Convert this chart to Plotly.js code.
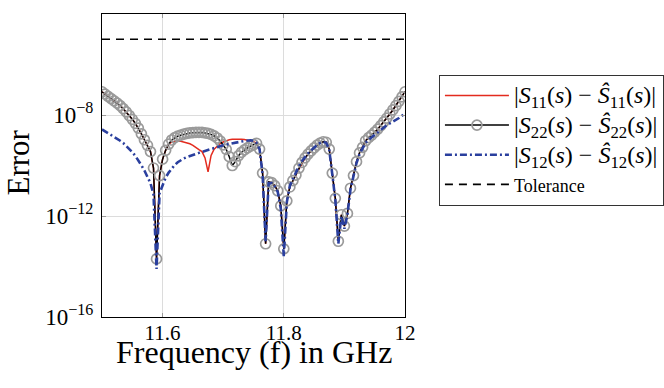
<!DOCTYPE html>
<html>
<head>
<meta charset="utf-8">
<script src="https://cdn.plot.ly/plotly-3.0.1.min.js"></script>
<style>html,body{margin:0;padding:0;background:#fff;}#chart{width:664px;height:388px;}</style>
</head>
<body>
<div id="chart"></div>
<script>
// Frequency grid (GHz)
const freq = [11.500,11.505,11.510,11.515,11.520,11.525,11.530,11.535,11.540,11.545,
11.550,11.555,11.560,11.565,11.570,11.575,11.580,11.585,11.590,11.595,
11.600,11.605,11.610,11.615,11.620,11.625,11.630,11.635,11.640,11.645,
11.650,11.655,11.660,11.665,11.670,11.675,11.680,11.685,11.690,11.695,
11.700,11.705,11.710,11.715,11.720,11.725,11.730,11.735,11.740,11.745,
11.750,11.755,11.760,11.765,11.770,11.775,11.780,11.785,11.790,11.795,
11.800,11.805,11.810,11.815,11.820,11.825,11.830,11.835,11.840,11.845,
11.850,11.855,11.860,11.865,11.870,11.875,11.880,11.885,11.890,11.895,
11.900,11.905,11.910,11.915,11.920,11.925,11.930,11.935,11.940,11.945,
11.950,11.955,11.960,11.965,11.970,11.975,11.980,11.985,11.990,11.995,12.000];

// log10 of the error values
const s22Exp = [-7.08,-7.17,-7.26,-7.35,-7.44,-7.53,-7.63,-7.75,-7.88,-8.02,
-8.17,-8.33,-8.52,-8.75,-8.98,-9.20,-9.45,-10.10,-13.70,-10.40,
-9.75,-9.40,-9.15,-8.99,-8.90,-8.84,-8.80,-8.76,-8.73,-8.71,
-8.70,-8.69,-8.69,-8.69,-8.71,-8.73,-8.77,-8.83,-8.91,-9.03,
-9.18,-9.36,-9.65,-10.00,-9.85,-9.62,-9.48,-9.38,-9.30,-9.23,
-9.17,-9.12,-9.35,-10.30,-13.10,-10.65,-10.68,-10.80,-11.00,-11.60,
-13.30,-11.40,-10.85,-10.60,-10.38,-10.10,-9.88,-9.70,-9.55,-9.42,
-9.30,-9.19,-9.11,-9.06,-9.08,-9.35,-10.30,-11.30,-13.00,-11.95,
-12.40,-11.90,-10.90,-10.40,-9.85,-9.50,-9.28,-9.02,-8.90,-8.80,
-8.68,-8.56,-8.42,-8.27,-8.12,-7.96,-7.80,-7.63,-7.46,-7.28,-7.08];

const s11Exp = [-7.08,-7.17,-7.26,-7.35,-7.44,-7.53,-7.63,-7.75,-7.88,-8.02,
-8.17,-8.33,-8.52,-8.75,-8.98,-9.20,-9.45,-10.10,-13.70,-10.40,
-9.75,-9.40,-9.17,-9.07,-9.04,-9.03,-9.04,-9.07,-9.10,-9.14,
-9.20,-9.27,-9.37,-9.45,-9.70,-10.25,-9.60,-9.35,-9.22,-9.13,
-9.07,-9.02,-8.98,-8.96,-8.95,-8.95,-8.96,-8.97,-8.99,-9.02,
-9.06,-9.11,-9.35,-10.30,-13.10,-10.65,-10.68,-10.80,-11.00,-11.60,
-13.30,-11.40,-10.85,-10.60,-10.38,-10.10,-9.88,-9.70,-9.55,-9.42,
-9.30,-9.19,-9.11,-9.06,-9.08,-9.35,-10.30,-11.30,-13.00,-11.95,
-12.40,-11.90,-10.90,-10.40,-9.85,-9.50,-9.28,-9.02,-8.90,-8.80,
-8.68,-8.56,-8.42,-8.27,-8.12,-7.96,-7.80,-7.63,-7.46,-7.28,-7.08];

const s12Exp = [-8.57,-8.64,-8.71,-8.78,-8.86,-8.94,-9.02,-9.11,-9.22,-9.34,
-9.47,-9.62,-9.79,-9.99,-10.20,-10.42,-10.70,-11.15,-14.10,-11.10,
-10.75,-10.48,-10.28,-10.12,-9.98,-9.87,-9.79,-9.72,-9.67,-9.62,
-9.58,-9.54,-9.50,-9.46,-9.42,-9.38,-9.34,-9.30,-9.26,-9.23,
-9.20,-9.17,-9.14,-9.11,-9.09,-9.07,-9.05,-9.03,-9.01,-9.00,
-9.02,-9.10,-9.35,-10.35,-13.00,-10.70,-10.70,-10.82,-11.05,-11.70,
-13.60,-11.45,-10.80,-10.52,-10.28,-10.02,-9.82,-9.66,-9.52,-9.40,
-9.29,-9.19,-9.11,-9.07,-9.10,-9.38,-10.35,-11.35,-13.10,-12.00,
-12.50,-11.95,-10.95,-10.45,-9.90,-9.55,-9.33,-9.10,-8.98,-8.88,
-8.78,-8.68,-8.58,-8.48,-8.40,-8.33,-8.27,-8.20,-8.12,-8.03,-7.93];

const tolFreq = [11.5, 12.0];
const tolValue = [1e-5, 1e-5];

const yTickVals = [1e-16, 1e-12, 1e-8, 1e-4];
const yTickText = ['10<sup>\u221216</sup>', '10<sup>\u221212</sup>', '10<sup>\u22128</sup>', '10<sup>\u22124</sup>'];
const xTickVals = [11.6, 11.8, 12];
const xTickText = ['11.6', '11.8', '12'];

const seriesNames = [
  '<span style="font-size:24px">|<i>S</i><sub>11</sub>(<i>s</i>) \u2212 <i>\u015C</i><sub>11</sub>(<i>s</i>)|</span>',
  '<span style="font-size:24px">|<i>S</i><sub>22</sub>(<i>s</i>) \u2212 <i>\u015C</i><sub>22</sub>(<i>s</i>)|</span>',
  '<span style="font-size:24px">|<i>S</i><sub>12</sub>(<i>s</i>) \u2212 <i>\u015C</i><sub>12</sub>(<i>s</i>)|</span>',
  '<span style="font-size:18px">Tolerance</span>'
];

const toVal = a => a.map(v => Math.pow(10, v));

const serif = 'Liberation Serif, Times New Roman, serif';

const traces = [
  {x: freq, y: toVal(s11Exp), type: 'scatter', mode: 'lines', name: seriesNames[0],
   line: {color: '#e32b1e', width: 1.5}},
  {x: freq, y: toVal(s22Exp), type: 'scatter', mode: 'lines+markers', name: seriesNames[1],
   line: {color: '#000000', width: 1.5},
   marker: {symbol: 'circle-open', size: 10, color: '#9a9a9a', line: {width: 1.7, color: '#9a9a9a'}}},
  {x: freq, y: toVal(s12Exp), type: 'scatter', mode: 'lines', name: seriesNames[2],
   line: {color: '#2a3f9e', width: 2.6, dash: '7px,3px,2px,3px'}},
  {x: tolFreq, y: tolValue, type: 'scatter', mode: 'lines', name: seriesNames[3],
   line: {color: '#000000', width: 1.6, dash: '8px,6px'}}
];

const layout = {
  width: 664, height: 388,
  margin: {l: 102, r: 259, t: 14, b: 71, autoexpand: false},
  paper_bgcolor: '#ffffff', plot_bgcolor: '#ffffff',
  font: {family: serif, color: '#000000', size: 18},
  showlegend: true,
  xaxis: {
    range: [11.5, 12], tickvals: xTickVals, ticktext: xTickText,
    showgrid: true, gridcolor: '#dcdcdc', gridwidth: 1,
    showline: true, linecolor: '#000000', linewidth: 1, mirror: 'ticks',
    ticks: 'inside', ticklen: 4, tickcolor: '#999999', zeroline: false,
    tickfont: {size: 21, family: serif}, ticklabelstandoff: -3
  },
  yaxis: {
    type: 'log', range: [-16, -4], tickvals: yTickVals, ticktext: yTickText,
    showgrid: true, gridcolor: '#dcdcdc', gridwidth: 1,
    showline: true, linecolor: '#000000', linewidth: 1, mirror: 'ticks',
    ticks: 'inside', ticklen: 4, tickcolor: '#999999', zeroline: false,
    tickfont: {size: 23, family: serif}, ticklabelstandoff: 3
  },
  annotations: [
    {text: 'Frequency (f) in GHz', xref: 'paper', yref: 'paper', x: 0.5, y: 0,
     xanchor: 'center', yanchor: 'top', yshift: -15, showarrow: false,
     font: {size: 32, family: serif}},
    {text: 'Error', xref: 'paper', yref: 'paper', x: -0.277, y: 0.51,
     xanchor: 'center', yanchor: 'middle', textangle: -90, showarrow: false,
     font: {size: 31, family: serif}}
  ],
  legend: {
    x: 1.112, xanchor: 'left', y: 0.80, yanchor: 'top',
    bordercolor: '#333333', borderwidth: 1, bgcolor: '#ffffff',
    font: {size: 20.5, family: serif}, itemwidth: 64, tracegroupgap: 0
  }
};

Plotly.newPlot('chart', traces, layout, {displayModeBar: false, staticPlot: true});
</script>
</body>
</html>
